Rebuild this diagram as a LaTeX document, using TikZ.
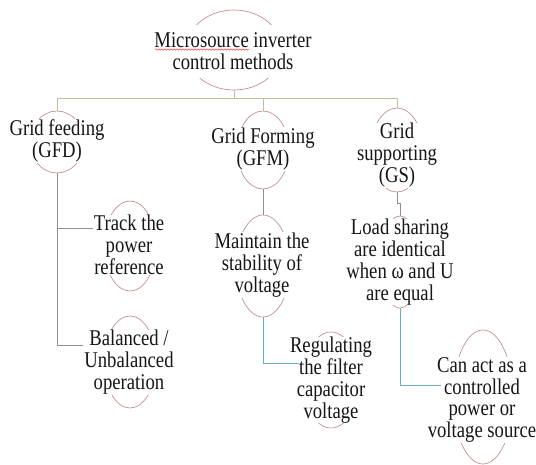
\documentclass[tikz,border=0pt]{standalone}
\usepackage{fontspec}
\setmainfont{Liberation Serif}
\newfontfamily\tallfont[FakeStretch=0.83]{Liberation Serif}
\usetikzlibrary{shapes.geometric,decorations.pathmorphing}
\definecolor{ellc}{HTML}{C88F8F}
\definecolor{busc}{HTML}{BCC49A}
\definecolor{grayc}{HTML}{8E8E9C}
\definecolor{tealc}{HTML}{6AAEC4}
\definecolor{txtc}{HTML}{161616}
\begin{document}
\begin{tikzpicture}[x=1pt,y=-1pt,
  ell/.style={draw=ellc,line width=0.7pt,ellipse,inner sep=0pt},
  lbl/.style={fill=white,align=center,text=txtc,font=\tallfont\fontsize{22.5}{21.8}\selectfont,inner xsep=1pt,inner ysep=0.5pt},
  bus/.style={draw=busc,line width=1pt},
  gline/.style={draw=grayc,line width=0.9pt},
  tline/.style={draw=tealc,line width=0.9pt}]
\useasboundingbox (0,0) rectangle (536,464);
% ellipses
\node[ell,minimum width=96pt,minimum height=80pt] (eTop) at (234,50) {};
\node[ell,minimum width=54pt,minimum height=62pt] (eGFD) at (57,142) {};
\node[ell,minimum width=52pt,minimum height=90pt] (eTrack) at (130,246) {};
\node[ell,minimum width=52pt,minimum height=92pt] (eBal) at (130,362) {};
\node[ell,minimum width=52pt,minimum height=78pt] (eGFM) at (263,150) {};
\node[ell,minimum width=54pt,minimum height=102pt] (eMaint) at (263,266) {};
\node[ell,minimum width=56pt,minimum height=96pt] (eReg) at (331,380) {};
\node[ell,minimum width=52pt,minimum height=84pt] (eGS) at (397,150) {};
\node[ell,minimum width=40pt,minimum height=92pt] (eLoad) at (400,262) {};
\node[ell,minimum width=60pt,minimum height=134pt] (eCan) at (483,397) {};
% labels
\node[lbl,inner ysep=8pt] (tTop) at (233,51.5) {Microsource inverter\\control methods};
\node[lbl] (tGFD) at (57,141) {Grid feeding\\(GFD)};
\node[lbl] (tTrack) at (129,245) {Track the\\power\\reference};
\node[lbl] (tBal) at (129,362) {Balanced /\\Unbalanced\\operation};
\node[lbl] (tGFM) at (263,149) {Grid Forming\\(GFM)};
\node[lbl] (tMaint) at (262,265) {Maintain the\\stability of\\voltage};
\node[lbl] (tReg) at (331,380) {Regulating\\the filter\\capacitor\\voltage};
\node[lbl] (tGS) at (397,155) {Grid\\supporting\\(GS)};
\node[lbl] (tLoad) at (400,262) {Load sharing\\are identical\\when ω and U\\are equal};
\node[lbl] (tCan) at (482,400) {Can act as a\\controlled\\power or\\voltage source};
% spell-check underline
\draw[red!75,line width=0.5pt,decorate,decoration={snake,amplitude=0.7pt,segment length=3pt}] (155,49.5) -- (249,49.5);
% connectors
\coordinate (busL) at (57,98);
\coordinate (busR) at (397,98);
\draw[bus] (eTop.south) -- (eTop.south |- busL);
\draw[bus] (busL) -- (busR);
\draw[bus] (busL) -- (eGFD.north);
\draw[bus] (eGFM.north |- busL) -- (eGFM.north);
\draw[bus] (busR) -- (eGS.north);
\coordinate (jT) at (57,228);
\coordinate (jB) at (57,345);
\draw[gline] (eGFD.south) -- (jB) -- (jB -| tBal.west);
\draw[gline] (jT) -- (jT -| tTrack.west);
\draw[gline] (eGFM.south) -- (eMaint.north);
\coordinate (jR) at (263,363);
\coordinate (jR2) at (299,363);
\draw[tline] (eMaint.south) -- (jR) -- (jR2);
\coordinate (g1) at (397,203);
\coordinate (g2) at (400,203);
\draw[gline] (eGS.south) -- (g1) -- (g2) -- (eLoad.north);
\coordinate (jC) at (400,385);
\coordinate (jC2) at (441,385);
\draw[tline] (eLoad.south) -- (jC) -- (jC2);
\end{tikzpicture}
\end{document}
